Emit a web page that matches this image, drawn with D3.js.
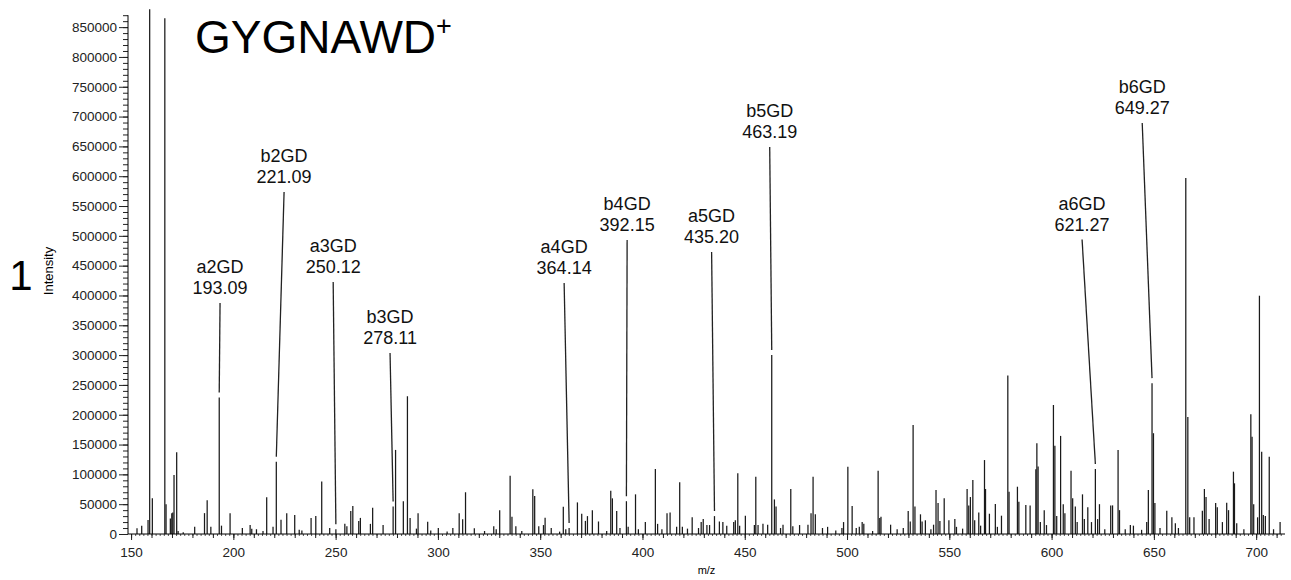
<!DOCTYPE html>
<html>
<head>
<meta charset="utf-8">
<script src="https://cdn.jsdelivr.net/npm/d3@7"></script>
<style>
  body { margin: 0; background: #fff; }
  svg { display: block; font-family: Arial, "Liberation Sans", sans-serif; }
</style>
</head>
<body>
<div id="chart"></div>
<script>
// peaks: [m/z, intensity]
const peaks = [
  [152.9, 9500], [155.2, 14000], [158.3, 23500], [159.1, 880000], [160.4, 60000],
  [166.5, 865000], [167.1, 50000], [169.2, 26000], [169.9, 35000], [170.4, 36000],
  [171.0, 99000], [172.3, 137000], [173.0, 5000], [175.5, 3000], [181.1, 12000],
  [185.9, 35000], [187.2, 56500], [189.0, 12000], [193.1, 229000], [194.2, 14000],
  [198.4, 35000], [204.4, 10000], [208.2, 15000], [209.0, 9000], [211.3, 8000],
  [214.5, 5000], [216.3, 61500], [219.4, 12000], [221.0, 121000], [223.3, 24000],
  [226.1, 35000], [230.0, 32000], [232.2, 7000], [233.5, 6000], [238.0, 27000],
  [240.3, 30000], [243.2, 88000], [247.1, 10000], [250.12, 8000], [254.5, 17000],
  [255.5, 13000], [257.4, 38500], [258.4, 47000], [261.3, 22000], [262.1, 27000],
  [267.0, 17000], [268.1, 44000], [273.2, 15000], [278.11, 46000], [279.3, 141000],
  [283.1, 55000], [285.1, 231000], [286.4, 27000], [289.5, 9000], [290.3, 35000],
  [295.0, 20600], [296.5, 6000], [300.2, 10000],
  [304.5, 4000], [307.3, 10000], [310.4, 34700], [312.1, 24600], [313.5, 70000],
  [317.8, 9500], [322.8, 5000], [327.3, 13000], [328.5, 8000], [330.2, 40000],
  [335.3, 97500], [336.2, 29000], [338.1, 13000], [341.0, 5000], [346.4, 75000],
  [347.3, 63700], [349.3, 13000], [351.6, 15000], [352.4, 27400], [355.4, 10000],
  [359.5, 4000], [361.3, 45800], [362.5, 8000], [364.14, 10000], [368.2, 53000],
  [370.3, 34000], [372.1, 22000], [373.1, 30000], [375.5, 40000], [378.5, 21000],
  [382.5, 5000], [384.5, 72600], [385.3, 59800], [387.4, 38500], [389.0, 10000],
  [392.15, 55000], [393.0, 12000], [396.6, 66500], [398.0, 8000], [401.4, 20000],
  [406.3, 109000], [407.4, 17000], [409.5, 8000], [412.0, 34700], [413.5, 36000],
  [416.7, 12000], [418.2, 86700], [419.5, 12000], [422.0, 9000], [424.3, 28000],
  [427.4, 10000], [428.7, 20000], [429.7, 25000], [431.5, 15000], [432.8, 15000],
  [435.2, 30000], [437.6, 21000], [439.3, 20000], [441.2, 14000], [444.6, 20000],
  [445.4, 23000], [446.6, 101700], [447.5, 14000], [450.3, 30700], [454.7, 15000],
  [455.4, 96000], [456.5, 15000], [458.9, 17000], [461.2, 15600], [463.19, 300000],
  [464.5, 58000], [465.3, 46000], [467.5, 10000], [468.7, 15600], [472.5, 75500],
  [473.5, 13000], [476.8, 15000], [480.9, 15600], [482.4, 34700], [483.4, 96000],
  [484.5, 33000], [488.0, 10000], [490.5, 12000], [494.5, 6000], [497.5, 10000],
  [498.3, 20000], [500.4, 112900], [502.5, 47000], [504.5, 10000], [506.0, 12000],
  [507.4, 20000], [508.2, 17000], [512.5, 5000], [515.2, 106000], [516.0, 27000],
  [516.6, 29000], [521.3, 15600], [524.5, 8000], [527.5, 10000], [529.9, 38500],
  [530.9, 21000], [532.3, 182700], [533.2, 46000], [535.9, 33000], [536.7, 21000],
  [538.3, 23000], [541.0, 8000], [542.3, 15600], [543.5, 73800], [544.5, 52000],
  [545.4, 22000], [547.5, 59800], [549.8, 23000], [552.7, 25000], [553.5, 12000],
  [556.5, 9000], [558.7, 75500], [559.5, 48000], [560.3, 62000], [561.5, 90500],
  [562.4, 23000], [564.4, 36000], [565.3, 14000], [567.2, 124000], [567.7, 75500],
  [569.6, 34000], [572.5, 50300], [573.5, 12000], [575.5, 30700],
  [578.6, 266000], [579.2, 71000], [583.3, 79300], [584.0, 54000], [587.4, 48600],
  [589.5, 48000], [592.3, 108500], [592.8, 152000], [593.4, 113000], [594.5, 20000],
  [596.4, 40000], [597.5, 15000], [600.9, 216300], [601.6, 148000], [602.5, 30000],
  [604.4, 164500], [605.7, 50000], [606.5, 35000], [609.5, 106000], [610.3, 60000],
  [611.6, 46000], [612.5, 20000], [615.1, 66500], [616.0, 25000], [617.7, 45000],
  [619.5, 20000], [621.4, 109000], [622.5, 25000], [623.4, 50000], [626.0, 8000],
  [628.9, 48000], [629.8, 48000], [632.5, 140800], [633.2, 40000], [636.0, 8000],
  [638.5, 15000], [640.0, 14000], [644.0, 7000], [646.5, 20000], [647.3, 73800],
  [649.1, 253000], [649.8, 169000], [650.5, 52000], [653.0, 10000], [656.3, 39000],
  [658.8, 28000], [660.5, 18000], [662.0, 10000], [665.6, 597000], [666.6, 196000],
  [667.5, 28000], [669.6, 28000], [673.7, 39000], [674.7, 75500], [675.5, 62000],
  [677.0, 25000], [680.2, 52000], [681.0, 45000], [683.5, 20000], [685.6, 52500],
  [686.5, 40000], [688.9, 104500], [689.4, 85000], [690.5, 18000], [694.0, 8000],
  [697.4, 200700], [698.0, 163000], [698.8, 50000], [700.7, 28000], [701.6, 399600],
  [702.7, 138000], [703.5, 32000], [704.5, 30000], [706.4, 129600], [708.5, 8000],
  [711.7, 20000]
];

// annotated fragment ions
const ionNames = ["a2GD", "b2GD", "a3GD", "b3GD", "a4GD", "b4GD", "a5GD", "b5GD", "a6GD", "b6GD"];
const ionLabels = ["193.09", "221.09", "250.12", "278.11", "364.14", "392.15", "435.20", "463.19", "621.27", "649.27"];
const ionPeakMz = [193.1, 221.0, 250.12, 278.11, 364.14, 392.15, 435.2, 463.19, 621.4, 649.1];
const ionPeakInt = [229000, 121000, 8000, 46000, 10000, 55000, 30000, 300000, 109000, 253000];
// where each label's leader line starts (data units)
const labelMz = [193.5, 224.8, 248.8, 276.6, 361.7, 392.5, 433.8, 462.2, 614.9, 644.3];
const labelInt = [387300, 573400, 422500, 303500, 420900, 493000, 472800, 648900, 493800, 689100];

const xTicks = d3.range(150, 701, 50);
const yTicks = d3.range(0, 850001, 50000);

const width = 1291, height = 580;
const svg = d3.select("#chart").append("svg")
  .attr("width", width).attr("height", height);

const x = d3.scaleLinear().domain([148.5, 714.1]).range([128, 1285]);
const y = d3.scaleLinear().domain([0, 870000]).range([534, 15.2]);

// spectrum sticks
svg.append("g")
  .selectAll("line")
  .data(peaks)
  .join("line")
  .attr("x1", d => x(d[0])).attr("x2", d => x(d[0]))
  .attr("y1", y(0)).attr("y2", d => y(d[1]))
  .attr("stroke", "#1a1a1a")
  .attr("stroke-width", 1.25);

// axes
const yMinor = svg.append("g")
  .attr("transform", `translate(${x.range()[0]},0)`)
  .call(d3.axisLeft(y).tickValues(d3.range(0, 870001, 10000)).tickSize(5).tickFormat(""));
const yAxis = svg.append("g")
  .attr("transform", `translate(${x.range()[0]},0)`)
  .call(d3.axisLeft(y).tickValues(yTicks).tickSize(9).tickPadding(2).tickFormat(d3.format("d")));

const xTiny = svg.append("g")
  .attr("transform", `translate(0,${y(0)})`)
  .call(d3.axisBottom(x).tickValues(d3.range(150, 714, 2)).tickSize(2).tickFormat(""));
const xMinor = svg.append("g")
  .attr("transform", `translate(0,${y(0)})`)
  .call(d3.axisBottom(x).tickValues(d3.range(150, 711, 10)).tickSize(4).tickFormat(""));
const xAxis = svg.append("g")
  .attr("transform", `translate(0,${y(0)})`)
  .call(d3.axisBottom(x).tickValues(xTicks).tickSize(6).tickPadding(7));

[yMinor, yAxis, xTiny, xMinor, xAxis].forEach(g => {
  g.select(".domain").attr("stroke", "#000").attr("d", null);
  g.selectAll(".tick line").attr("stroke", "#222");
  g.selectAll("text").attr("font-size", "13.5px").attr("fill", "#222")
    .attr("font-family", "Arial, 'Liberation Sans', sans-serif");
});
xTiny.selectAll(".tick line").attr("stroke", "#555");

// plain axis lines, no end caps
svg.append("line").attr("x1", x.range()[0]).attr("x2", x.range()[0])
  .attr("y1", y.range()[0]).attr("y2", y.range()[1]).attr("stroke", "#000");
svg.append("line").attr("x1", x.range()[0]).attr("x2", x.range()[1])
  .attr("y1", y(0)).attr("y2", y(0)).attr("stroke", "#000");

// axis titles
svg.append("text")
  .attr("x", (x.range()[0] + x.range()[1]) / 2).attr("y", 574)
  .attr("text-anchor", "middle").attr("font-size", "11px").text("m/z");
svg.append("text")
  .attr("transform", "translate(53,271) rotate(-90)")
  .attr("text-anchor", "middle").attr("font-size", "13px").text("Intensity");

svg.append("text")
  .attr("x", 21).attr("y", 290)
  .attr("text-anchor", "middle").attr("font-size", "42px").text("1");

const title = svg.append("text").attr("x", 195).attr("y", 53).attr("font-size", "46px");
title.append("tspan").text("GYGNAWD");
title.append("tspan").attr("font-size", "27px").attr("dy", -18).text("+");

// fragment annotations
const ions = ionNames.map((n, i) => ({
  name: n, label: ionLabels[i], mz: ionPeakMz[i], int: ionPeakInt[i],
  lx: labelMz[i], ly: labelInt[i]
}));
const ann = svg.append("g").selectAll("g").data(ions).join("g");
ann.append("line")
  .attr("x1", d => x(d.lx)).attr("y1", d => y(d.ly))
  .attr("x2", d => x(d.mz)).attr("y2", d => y(d.int) - 5)
  .attr("stroke", "#222").attr("stroke-width", 1.3);
ann.append("text")
  .attr("x", d => x(d.lx)).attr("y", d => y(d.ly) - 30)
  .attr("text-anchor", "middle").attr("font-size", "18px").attr("fill", "#111")
  .text(d => d.name);
ann.append("text")
  .attr("x", d => x(d.lx)).attr("y", d => y(d.ly) - 9)
  .attr("text-anchor", "middle").attr("font-size", "18px").attr("fill", "#111")
  .text(d => d.label);
</script>
</body>
</html>
